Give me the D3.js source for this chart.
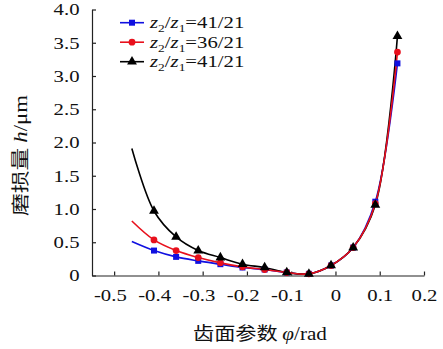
<!DOCTYPE html>
<html><head><meta charset="utf-8">
<script src="https://cdn.jsdelivr.net/npm/d3@7"></script>
<style>body{margin:0;background:#fff}svg{display:block}
.serif{font-family:"Liberation Serif","Times New Roman","DejaVu Serif",serif}
.cjk{font-family:"Noto Sans CJK SC",sans-serif}
</style>
</head><body>
<svg id="c" width="443" height="349"></svg>
<script>
const phi = [-0.46,-0.41,-0.36,-0.31,-0.26,-0.21,-0.16,-0.11,-0.06,-0.01,0.04,0.09,0.14];
const blueVals  = [0.51,0.375,0.28,0.22,0.17,0.12,0.09,0.045,0.025,0.15,0.42,1.11,3.19];
const redVals   = [0.82,0.535,0.375,0.27,0.19,0.13,0.09,0.045,0.025,0.15,0.42,1.08,3.36];
const blackVals = [1.91,0.97,0.58,0.375,0.27,0.17,0.12,0.045,0.025,0.15,0.42,1.06,3.6];
const legendRatios = ["41/21","36/21","41/21"];
const xTicks = [-0.5,-0.4,-0.3,-0.2,-0.1,0,0.1,0.2];
const yTicks = [0,0.5,1.0,1.5,2.0,2.5,3.0,3.5,4.0];

const K = 1.22; // horizontal stretch of text in the reference
const svg = d3.select("#c");
const x = d3.scaleLinear().domain([-0.55,0.2]).range([92,424]);
const y = d3.scaleLinear().domain([0,4]).range([275.5,9.5]);

// axes
const xa = svg.append("g").attr("transform","translate(0,275.5)")
  .call(d3.axisBottom(x).tickValues(xTicks).tickSizeInner(-4).tickSizeOuter(0).tickPadding(13)
    .tickFormat(d=> d===0 ? "0" : d3.format(".1f")(d).replace("−","-")));
const ya = svg.append("g").attr("transform","translate(92,0)")
  .call(d3.axisLeft(y).tickValues(yTicks).tickSizeInner(-4).tickSizeOuter(0).tickPadding(12.5)
    .tickFormat(d=> d===0 ? "0" : d3.format(".1f")(d)));
[xa,ya].forEach(g=>{
  g.attr("font-family",null).attr("font-size",null);
  g.selectAll("path").attr("stroke","#222").attr("stroke-width",1.2);
  g.selectAll("line").attr("stroke","#222").attr("stroke-width",1.2);
  g.selectAll("text").attr("class","serif").style("font-size","17px").attr("fill","#111");
});
xa.selectAll("text").attr("transform",`scale(${K},1)`)
  .attr("dx",d=> d<0 ? -3.5 : 0);
ya.selectAll("text").attr("x",-12.5/K).attr("transform",`scale(${K},1)`);

const series = [
  {vals: blueVals, color:"#1010e0", shape:"square"},
  {vals: blackVals, color:"#000", shape:"triangle"},
  {vals: redVals, color:"#e8101c", shape:"circle"}
];
const line = d3.line().x((d,i)=>x(phi[i])).y(d=>y(d)).curve(d3.curveCatmullRom.alpha(0.5));
series.forEach(s=>{
  svg.append("path").attr("d",line(s.vals)).attr("fill","none")
    .attr("stroke",s.color).attr("stroke-width",1.6);
});
const sym = {square:d3.symbolSquare, circle:d3.symbolCircle, triangle:d3.symbolTriangle};
const size = {square:36, circle:36, triangle:42};
[series[0],series[2],series[1]].forEach(s=>{
  svg.append("g").selectAll("path").data(s.vals.slice(1)).join("path")
    .attr("transform",(d,i)=>`translate(${x(phi[i+1])},${y(d)})`)
    .attr("d",d3.symbol().type(sym[s.shape]).size(size[s.shape]))
    .attr("fill",s.color);
});

// legend
const leg = [
  {color:"#1010e0", shape:"square"},
  {color:"#e8101c", shape:"circle"},
  {color:"#000", shape:"triangle"}
];
leg.forEach((l,i)=>{
  const yy = 22.7 + i*19.5;
  svg.append("line").attr("x1",120).attr("x2",144).attr("y1",yy).attr("y2",yy)
    .attr("stroke",l.color).attr("stroke-width",1.6);
  svg.append("path").attr("transform",`translate(132,${yy})`)
    .attr("d",d3.symbol().type(sym[l.shape]).size(size[l.shape])).attr("fill",l.color);
  const t = svg.append("text").attr("transform",`translate(150,${yy+5.5}) scale(${K},1)`)
    .attr("class","serif").style("font-size","17px").attr("fill","#111");
  t.append("tspan").attr("font-style","italic").text("z");
  t.append("tspan").style("font-size","11px").attr("dy",4).text("2");
  t.append("tspan").attr("dy",-4).text("/");
  t.append("tspan").attr("font-style","italic").text("z");
  t.append("tspan").style("font-size","11px").attr("dy",4).text("1");
  t.append("tspan").attr("dy",-4).text("=" + legendRatios[i]);
});

// axis titles (scaled to the reference's extents)
function fitText(sel, cx, cy, target, rot){
  const w = sel.node().getBBox().width;
  const s = target / w;
  sel.attr("transform", `translate(${cx},${cy}) rotate(${rot}) scale(${s},1)`);
}
const yt = svg.append("text").attr("text-anchor","middle").style("font-size","18px").attr("fill","#111");
yt.append("tspan").attr("class","cjk").text("磨损量 ");
yt.append("tspan").attr("class","serif").attr("font-style","italic").text("h");
yt.append("tspan").attr("class","serif").text("/μm");
fitText(yt, 27, 155.5, 121, -90);

const xt = svg.append("text").attr("text-anchor","middle").style("font-size","18px").attr("fill","#111");
xt.append("tspan").attr("class","cjk").text("齿面参数 ");
xt.append("tspan").attr("class","serif").attr("font-style","italic").text("φ");
xt.append("tspan").attr("class","serif").text("/rad");
fitText(xt, 260, 340, 134, 0);
</script>
</body></html>
